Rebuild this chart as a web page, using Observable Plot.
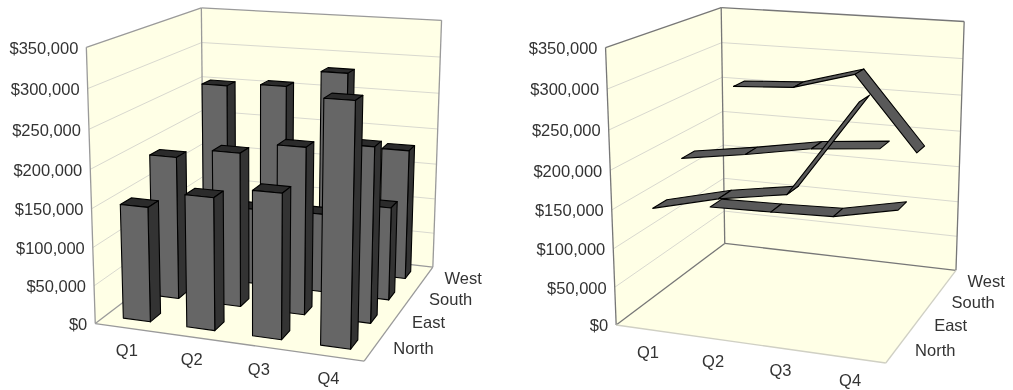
<!DOCTYPE html>
<html><head><meta charset="utf-8">
<style>html,body{margin:0;padding:0;background:#fff}svg{display:block;filter:blur(0.35px)}</style>
<script src="https://cdn.jsdelivr.net/npm/d3@7"></script>
<script src="https://cdn.jsdelivr.net/npm/@observablehq/plot@0.6"></script>
</head><body><div id="chart"></div>
<script>
const quarters = ["Q1","Q2","Q3","Q4"];
const regions = ["North","East","South","West"];
const yTicks = [0,50000,100000,150000,200000,250000,300000,350000];
const north = [150000,171000,185000,303000];
const east  = [192000,205000,220000,228000];
const south = [103000,105000,108000,126000];
const west  = [252000,257000,281000,181000];
const seriesValues = {North:north,East:east,South:south,West:west};

// Shared scales of the 3D scene (unit cube)
const uScale = Plot.scale({x:{type:"band",domain:quarters,range:[0,1],paddingInner:0.57,paddingOuter:0.285}});
const vScale = Plot.scale({x:{type:"band",domain:regions,range:[0,1],paddingInner:0.65,paddingOuter:0.325}});
const wScale = Plot.scale({y:{type:"linear",domain:[0,350000],range:[0,1]}});

// Camera calibration: cube corners [u,v,w] and where they appear on the page
function solve(A,b){const n=b.length,M=A.map((r,i)=>[...r,b[i]]);
  for(let i=0;i<n;i++){let p=i;for(let k=i+1;k<n;k++)if(Math.abs(M[k][i])>Math.abs(M[p][i]))p=k;[M[i],M[p]]=[M[p],M[i]];
    for(let k=0;k<n;k++)if(k!==i){const f=M[k][i]/M[i][i];for(let j=i;j<=n;j++)M[k][j]-=f*M[i][j];}}
  return M.map((r,i)=>r[n]/r[i]);}
function camera(pts){const R=[],B=[];
  for(const [u,v,w,x,y] of pts){
    R.push([u,v,w,1,0,0,0,0,-x*u,-x*v,-x*w]);B.push(x);
    R.push([0,0,0,0,u,v,w,1,-y*u,-y*v,-y*w]);B.push(y);}
  const N=Array.from({length:11},(_,i)=>Array.from({length:11},(_,j)=>d3.sum(R,r=>r[i]*r[j])));
  const c=Array.from({length:11},(_,i)=>d3.sum(R,(r,k)=>r[i]*B[k]));
  const p=solve(N,c);
  return (u,v,w)=>{const d=p[8]*u+p[9]*v+p[10]*w+1;
    return [(p[0]*u+p[1]*v+p[2]*w+p[3])/d,(p[4]*u+p[5]*v+p[6]*w+p[7])/d];};}
const camLeft = camera([[0,0,0,95,322.7],[1,0,0,363.5,361],[1,1,0,432.5,266],[0,1,0,203,241],[0,0,1,85.7,46.7],[0,1,1,201,7.3],[1,1,1,441,20]]);
const camRight = camera([[0,0,0,616,325],[1,0,0,885,362.3],[1,1,0,955.7,270],[0,1,0,724,242.5],[0,0,1,605,46.7],[0,1,1,720.7,7.3],[1,1,1,963.7,21]]);

const wallColor="#ffffe6", floorColor="#ffffe6";
const polys=[]; let pid=0;
function poly(cam,pts,fill,stroke,sw){const id=pid++;
  [...pts,pts[0]].forEach((p,i)=>{const [x,y]=cam(...p);polys.push({id,i,x,y,fill,stroke,sw});});}
const segs=[];
function seg(cam,a,b,stroke,sw){const [x1,y1]=cam(...a),[x2,y2]=cam(...b);segs.push({x1,y1,x2,y2,stroke,sw});}
const labels=[];

function frame(cam,edge){
  poly(cam,[[0,0,0],[0,1,0],[0,1,1],[0,0,1]],wallColor,"none",0);
  poly(cam,[[0,1,0],[1,1,0],[1,1,1],[0,1,1]],wallColor,"none",0);
  poly(cam,[[0,0,0],[1,0,0],[1,1,0],[0,1,0]],floorColor,"none",0);
  for(const t of yTicks){const w=wScale.apply(t);if(t>0&&t<350000){
    seg(cam,[0,0,w],[0,1,w],"#d9d9cf",1);seg(cam,[0,1,w],[1,1,w],"#d9d9cf",1);}
    const [x,y]=cam(0,0,w);labels.push({x:x-8,y:y+1,t:"$"+d3.format(",")(t),a:"end"});}
  seg(cam,[0,0,0],[0,0,1],edge,1.3);seg(cam,[0,0,1],[0,1,1],edge,1.3);
  seg(cam,[0,1,1],[1,1,1],edge,1.3);seg(cam,[1,1,1],[1,1,0],edge,1.3);
  seg(cam,[0,1,1],[0,1,0],edge,1.3);seg(cam,[0,0,0],[0,1,0],edge,1.3);seg(cam,[0,1,0],[1,1,0],edge,1.3);
  for(const q of quarters){const [x,y]=cam(uScale.apply(q)+uScale.bandwidth/2,0,0);labels.push({x,y:y+23,t:q,a:"middle"});}
  for(const r of regions){const [x,y]=cam(1,vScale.apply(r)+vScale.bandwidth/2,0);labels.push({x:x+19,y:y+1.5,t:r,a:"start"});}
}
function frontEdges(cam,edge){seg(cam,[0,0,0],[1,0,0],edge,1.3);seg(cam,[1,0,0],[1,1,0],edge,1.3);}

// LEFT: 3D columns
frame(camLeft,"#9a9a9a");
for(const r of [...regions].reverse())quarters.forEach((q,i)=>{
  const u0=uScale.apply(q),u1=u0+uScale.bandwidth,v0=vScale.apply(r),v1=v0+vScale.bandwidth,w=wScale.apply(seriesValues[r][i]);
  poly(camLeft,[[u0,v0,w],[u1,v0,w],[u1,v1,w],[u0,v1,w]],"#2b2b2b","#000",1);
  poly(camLeft,[[u1,v0,0],[u1,v1,0],[u1,v1,w],[u1,v0,w]],"#333333","#000",1);
  poly(camLeft,[[u0,v0,0],[u1,v0,0],[u1,v0,w],[u0,v0,w]],"#666666","#000",1);
});
frontEdges(camLeft,"#9a9a9a");

// RIGHT: 3D ribbons
frame(camRight,"#777777");
for(const r of [...regions].reverse()){
  const vc=vScale.apply(r)+vScale.bandwidth/2,d=vScale.bandwidth*0.66;
  seriesValues[r].slice(0,-1).forEach((val,i)=>{
    const u0=uScale.apply(quarters[i])+uScale.bandwidth/2,u1=uScale.apply(quarters[i+1])+uScale.bandwidth/2;
    const w0=wScale.apply(val),w1=wScale.apply(seriesValues[r][i+1]);
    poly(camRight,[[u0,vc-d,w0],[u1,vc-d,w1],[u1,vc+d,w1],[u0,vc+d,w0]],"#595959","#000",1);
  });
}
frontEdges(camRight,"#d0d0c4");

const segMarks=d3.groups(segs,d=>d.stroke+"|"+d.sw).map(([k,v])=>Plot.link(v,{x1:"x1",y1:"y1",x2:"x2",y2:"y2",stroke:v[0].stroke,strokeWidth:v[0].sw}));
const isFlat=d=>d.stroke==="none";
const textMark=a=>Plot.text(labels.filter(d=>d.a===a),{x:"x",y:"y",text:"t",textAnchor:a,fill:"#333",fontSize:16.5,fontFamily:"Liberation Sans, Arial, sans-serif"});
const chart=Plot.plot({
  width:1013,height:390,margin:0,
  x:{type:"linear",domain:[0,1013],range:[0,1013],axis:null},
  y:{type:"linear",domain:[0,390],range:[0,390],axis:null},
  color:{type:"identity"},
  style:{background:"#fff"},
  marks:[
    Plot.line(polys.filter(isFlat),{x:"x",y:"y",z:"id",fill:"fill",stroke:"none"}),
    ...segMarks,
    Plot.line(polys.filter(d=>!isFlat(d)),{x:"x",y:"y",z:"id",fill:"fill",stroke:"#000",strokeWidth:1.1,strokeLinejoin:"round"}),
    textMark("end"),textMark("middle"),textMark("start")
  ]
});
document.getElementById("chart").append(chart);
</script></body></html>
